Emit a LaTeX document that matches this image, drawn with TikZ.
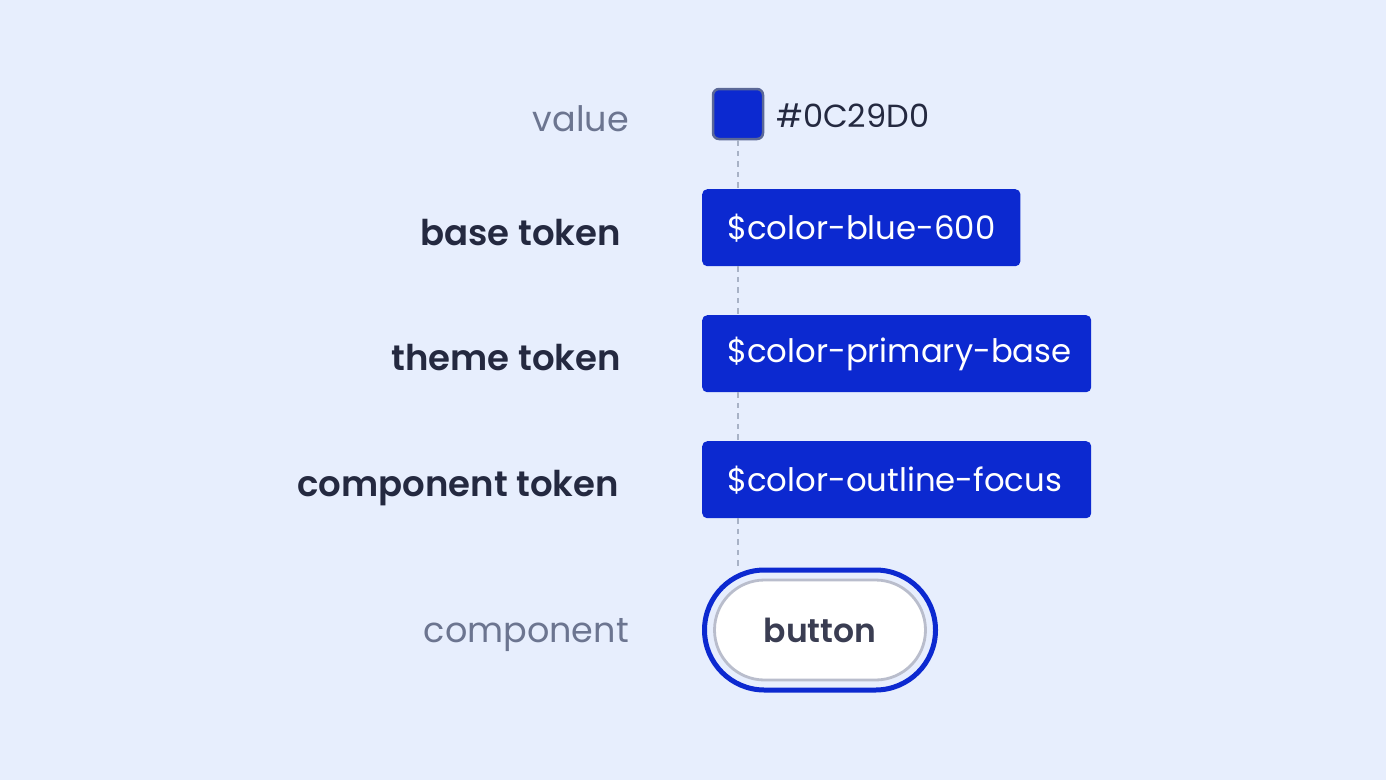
\documentclass[tikz,border=0pt]{standalone}
\usepackage{fontspec}
\setmainfont{Poppins}[BoldFont={Poppins SemiBold}]
\definecolor{bg}{HTML}{E7EEFD}
\definecolor{tokblue}{HTML}{0C29D0}
\definecolor{swborder}{HTML}{5B6897}
\definecolor{greytxt}{HTML}{6C7590}
\definecolor{darktxt}{HTML}{242940}
\definecolor{dotline}{HTML}{A8B2C6}
\definecolor{btnborder}{HTML}{B9BDCC}
\definecolor{btntxt}{HTML}{3A3D52}
\begin{document}
\begin{tikzpicture}[x=1pt,y=-1pt,
  lightlabel/.style={anchor=east,text=greytxt,font=\fontsize{35}{40}\selectfont,inner sep=0pt},
  boldlabel/.style={anchor=east,text=darktxt,font=\fontsize{35.5}{40}\selectfont\bfseries,inner sep=0pt},
  tokenbox/.style={anchor=north west,fill=tokblue,rounded corners=5pt,text=white,
    font=\fontsize{32.3}{38}\selectfont,minimum height=77pt,inner xsep=25pt,inner ysep=0pt},
  connector/.style={draw=dotline,line width=2.3pt,dash pattern=on 5.5pt off 5pt}]
\useasboundingbox (0,0) rectangle (1386,780);
\fill[bg] (0,0) rectangle (1386,780);
% swatch
\node[draw=swborder,line width=2.5pt,fill=tokblue,rounded corners=6pt,minimum size=50pt,inner sep=0pt] (sw) at (738,114) {};
\node[anchor=west,text=darktxt,font=\fontsize{32}{38}\selectfont,inner sep=0pt] (hex) at (776,116) {\#0C29D0};
\node[lightlabel] (lvalue) at (629,119) {value};
% tokens
\node[tokenbox] (t1) at (702,189) {\$color-blue-600};
\node[tokenbox] (t2) at (702,315) {\makebox[339pt][l]{\$color-primary-base}};
\node[tokenbox] (t3) at (702,441) {\makebox[339pt][l]{\$color-outline-focus}};
\node[boldlabel] (l1) at (621,233) {base token};
\node[boldlabel] (l2) at (621,358) {theme token};
\node[boldlabel] (l3) at (619,488) {component token};
% button
\node[draw=tokblue,line width=5pt,fill=bg,rounded corners=60pt,minimum width=231pt,minimum height=120pt,inner sep=0pt] (btnout) at (820,630) {};
\node[draw=btnborder,line width=2.8pt,fill=white,rounded corners=50pt,minimum width=211pt,minimum height=100pt,inner sep=0pt,text=btntxt,font=\fontsize{33}{38}\selectfont\bfseries] (btn) at (820,630) {button};
\node[lightlabel] (lcomp) at (629,635) {component};
% dotted connector
\coordinate (topc) at (sw.south);
\coordinate (botc) at (btnout.north);
\path[connector] (topc) -- (t1.north west -| topc);
\path[connector] (t1.south west -| topc) -- (t2.north west -| topc);
\path[connector] (t2.south west -| topc) -- (t3.north west -| topc);
\path[connector] (t3.south west -| topc) -- (botc -| topc);
\end{tikzpicture}
\end{document}
